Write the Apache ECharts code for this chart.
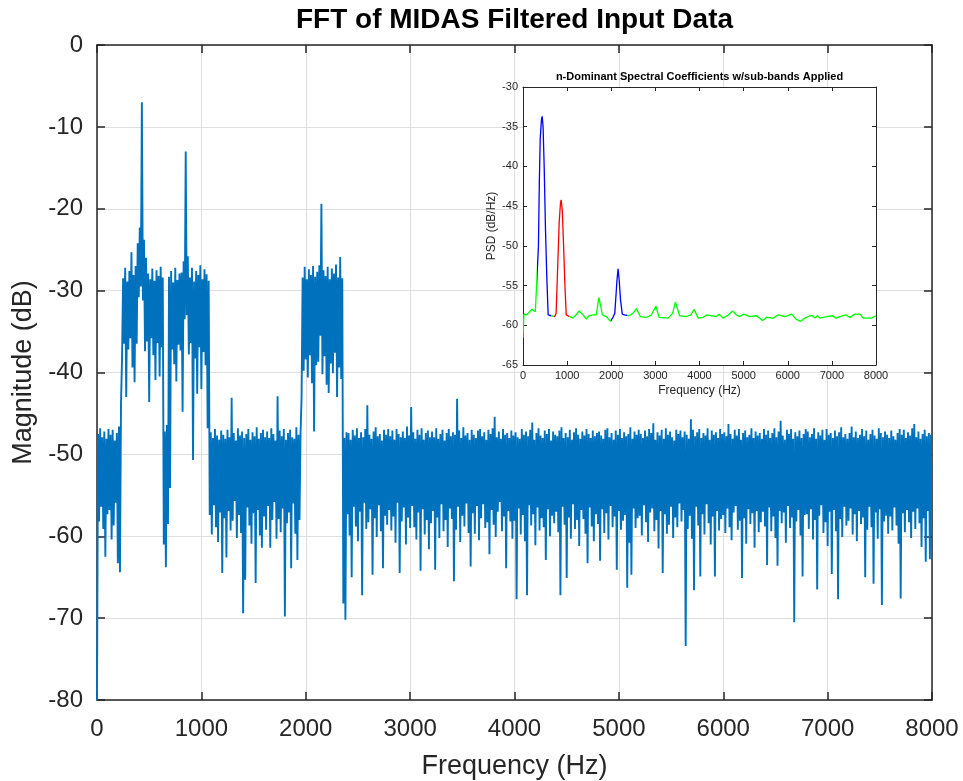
<!DOCTYPE html>
<html><head><meta charset="utf-8">
<script src="https://cdn.jsdelivr.net/npm/echarts@6/dist/echarts.min.js"></script>
<style>html,body{margin:0;padding:0;background:#fff}#chart{width:963px;height:781px}</style>
</head><body><div id="chart"></div>
<script>
// ---- Main FFT: per 20 Hz bin, the upper and lower extent of the magnitude trace (dB) ----
const binWidthHz = 20;
const bandHighDb = [
-47.5,-46.8,-47.9,-47.2,-48.1,-46.9,-47.6,-47.0,-48.3,-47.4,-46.6,-43.7,-28.5,-27.2,-28.9,-27.6,-25.3,-28.1,-27.0,-24.2,
-22.3,-7.0,-23.8,-26.0,-27.9,-28.6,-27.3,-28.8,-27.5,-28.2,-27.1,-28.4,-47.2,-46.4,-28.3,-27.6,-29.0,-27.2,-28.7,-27.9,
-27.8,-26.4,-13.0,-25.8,-28.4,-27.2,-28.9,-27.6,-28.1,-26.9,-28.6,-27.4,-28.0,-28.8,-47.3,-48.0,-46.9,-47.7,-48.2,-47.1,
-47.6,-48.1,-47.0,-47.9,-43.1,-47.4,-48.3,-46.8,-47.7,-47.2,-48.0,-47.5,-46.9,-48.2,-47.3,-47.8,-46.7,-48.1,-47.4,-47.0,
-47.9,-47.2,-48.0,-46.8,-47.5,-48.3,-42.9,-47.1,-47.8,-46.9,-48.2,-47.4,-47.0,-47.9,-48.1,-46.7,-47.6,-47.5,-28.4,-27.1,
-28.6,-27.4,-28.1,-27.0,-28.3,-27.7,-26.9,-19.4,-27.5,-28.2,-27.1,-28.6,-27.3,-27.9,-26.8,-28.4,-25.9,-28.5,-48.0,-47.3,
-47.4,-48.2,-47.0,-47.7,-46.8,-48.0,-47.3,-47.9,-46.9,-44.0,-47.6,-48.1,-47.2,-46.7,-47.8,-47.5,-48.3,-47.0,-47.6,-46.9,
-47.8,-47.1,-48.2,-46.9,-47.5,-47.9,-47.2,-48.0,-46.6,-47.7,-44.2,-47.3,-48.1,-47.0,-47.6,-46.8,-48.2,-47.4,-47.1,-47.9,
-47.2,-47.9,-46.8,-48.1,-47.5,-47.0,-48.3,-47.4,-46.9,-47.8,-47.3,-47.6,-43.2,-47.1,-48.0,-46.7,-47.7,-47.4,-48.2,-47.0,
-47.6,-48.0,-47.1,-46.9,-47.8,-47.3,-48.2,-47.0,-47.5,-46.8,-45.4,-47.9,-47.2,-48.1,-46.9,-47.6,-47.4,-48.0,-47.1,-47.7,
-47.3,-47.9,-48.1,-46.9,-47.6,-47.2,-47.8,-47.0,-46.1,-48.2,-47.4,-46.8,-47.7,-48.0,-47.1,-47.5,-46.9,-48.3,-47.2,-47.6,
-47.8,-47.1,-46.7,-48.0,-47.4,-47.9,-47.0,-48.2,-47.3,-46.8,-47.6,-48.1,-47.2,-47.7,-46.9,-47.5,-48.0,-47.1,-47.8,-47.4,
-47.2,-47.7,-48.1,-47.0,-46.8,-47.9,-47.4,-48.2,-47.1,-47.6,-46.9,-48.0,-47.3,-47.8,-47.5,-46.7,-48.1,-47.2,-47.6,-47.0,
-47.5,-48.0,-47.1,-47.8,-46.9,-47.4,-46.2,-48.2,-47.3,-47.7,-47.0,-48.1,-46.8,-47.6,-47.2,-47.9,-48.3,-47.0,-47.5,-47.1,
-47.9,-47.2,-47.6,-48.1,-45.7,-47.0,-47.8,-47.3,-46.9,-48.0,-47.4,-47.7,-46.8,-48.2,-47.1,-47.6,-47.3,-48.0,-46.9,-47.5,
-47.3,-47.8,-46.3,-47.5,-48.1,-47.0,-47.7,-46.9,-48.2,-47.4,-47.1,-47.9,-47.6,-46.8,-48.0,-47.2,-47.7,-47.4,-48.1,-46.9,
-47.6,-47.1,-48.0,-47.4,-46.8,-47.9,-47.2,-45.9,-47.7,-48.2,-47.0,-47.5,-46.9,-48.1,-47.3,-47.8,-47.1,-48.0,-47.5,-46.9,
-47.2,-47.9,-47.5,-46.8,-48.1,-47.3,-47.7,-47.0,-48.2,-46.9,-47.6,-47.4,-48.0,-47.1,-47.8,-47.3,-46.7,-47.9,-47.5,-48.1,
-47.4,-46.6,-47.9,-47.2,-48.0,-47.6,-46.9,-47.8,-47.1,-48.2,-47.5,-47.0,-47.7,-48.1,-46.8,-47.4,-47.9,-47.2,-47.6,-48.0,
-47.1,-47.8,-48.2,-47.4,-46.9,-47.6,-47.0,-48.0,-47.3,-47.7,-46.8,-46.3,-47.9,-47.2,-48.1,-47.5,-47.0,-47.8,-47.4,-47.6
];
const bandLowDb = [
-80,-58.2,-56.4,-59.1,-62.5,-57.3,-56.8,-60.4,-58.7,-55.9,-63.3,-64.4,-38.2,-36.5,-43.0,-37.2,-35.8,-39.4,-41.2,-36.5,
-30.8,-29.5,-31.2,-37.4,-36.2,-43.6,-35.8,-37.9,-40.9,-36.4,-40.5,-36.9,-61.0,-63.8,-58.5,-54.1,-37.2,-39.0,-41.1,-36.6,
-37.3,-44.8,-33.5,-33.0,-37.8,-36.4,-50.7,-38.3,-42.6,-36.9,-42.0,-37.5,-39.1,-46.8,-57.4,-59.8,-56.2,-58.9,-60.7,-57.1,
-64.5,-57.8,-62.6,-56.9,-59.3,-58.1,-55.7,-60.2,-57.4,-59.6,-69.4,-65.3,-56.5,-58.7,-60.9,-57.2,-65.7,-56.8,-59.9,-61.4,
-57.6,-59.2,-56.3,-61.4,-58.0,-55.8,-60.3,-57.9,-59.5,-56.6,-69.8,-58.4,-57.1,-63.9,-56.0,-59.7,-62.9,-58.0,-43.0,-39.8,
-38.4,-40.6,-37.9,-41.3,-47.2,-39.1,-38.7,-35.5,-40.2,-38.0,-41.5,-42.5,-38.9,-40.1,-37.6,-43.0,-39.4,-40.8,-68.2,-70.2,
-57.3,-59.9,-65.0,-56.4,-58.8,-60.6,-57.0,-67.2,-55.9,-59.1,-58.3,-56.7,-64.7,-57.8,-60.1,-56.2,-59.4,-63.9,-57.5,-58.6,
-56.8,-59.3,-57.6,-60.8,-55.9,-64.5,-58.2,-56.5,-61.0,-57.7,-59.0,-56.3,-58.9,-60.4,-57.1,-64.2,-56.7,-59.8,-58.0,-61.6,
-58.4,-56.9,-64.1,-57.7,-60.2,-56.1,-59.4,-58.0,-61.3,-56.6,-57.9,-65.5,-59.2,-56.4,-60.7,-57.5,-58.8,-56.0,-59.6,-63.7,
-57.2,-59.7,-56.3,-60.5,-57.8,-56.1,-59.0,-58.3,-62.2,-56.8,-58.6,-60.1,-57.0,-55.8,-59.4,-57.6,-63.9,-56.9,-58.2,-60.3,
-58.1,-67.7,-56.6,-59.8,-57.4,-60.6,-67.2,-56.2,-58.7,-57.3,-61.1,-56.5,-59.3,-57.8,-58.9,-62.9,-56.7,-60.0,-57.5,-58.4,
-57.0,-59.5,-67.2,-56.4,-58.6,-65.1,-57.7,-60.3,-56.1,-59.1,-58.0,-61.2,-56.8,-57.9,-59.7,-63.3,-56.5,-58.8,-60.6,-57.3,
-58.5,-63.0,-56.7,-59.6,-57.2,-60.4,-56.3,-58.9,-57.6,-64.1,-56.9,-59.2,-58.1,-57.4,-66.3,-60.8,-64.7,-56.6,-59.0,-57.8,
-57.5,-59.9,-56.2,-58.3,-60.7,-57.1,-56.6,-59.4,-58.0,-61.5,-56.9,-64.5,-57.3,-59.7,-58.6,-56.4,-60.2,-57.7,-58.9,-56.0,
-58.2,-56.8,-73.4,-59.1,-57.5,-60.3,-66.6,-56.4,-58.7,-64.9,-57.3,-59.8,-56.1,-58.4,-61.0,-57.6,-64.9,-56.9,-59.3,-57.9,
-57.4,-59.6,-56.6,-58.9,-60.5,-57.1,-56.3,-59.2,-58.1,-65.1,-57.8,-60.9,-56.7,-58.5,-57.2,-61.4,-56.9,-59.5,-58.3,-57.0,
-58.8,-63.5,-56.5,-59.4,-57.6,-60.2,-63.6,-56.9,-58.4,-57.1,-60.8,-56.3,-59.0,-57.7,-70.5,-58.2,-56.8,-59.9,-64.9,-57.4,
-57.3,-59.1,-56.7,-60.4,-58.0,-66.5,-57.5,-56.2,-59.6,-58.3,-61.2,-57.0,-64.6,-56.8,-59.4,-67.7,-57.9,-60.1,-56.4,-58.7,
-58.1,-56.6,-59.8,-57.3,-60.6,-56.9,-58.5,-57.7,-65.0,-59.2,-56.4,-58.9,-65.8,-57.1,-60.3,-56.7,-68.4,-58.2,-57.5,-59.7,
-57.6,-59.3,-56.5,-58.7,-60.9,-67.6,-57.2,-59.5,-56.8,-58.3,-60.2,-57.0,-59.1,-56.6,-58.4,-61.3,-57.8,-63.1,-56.9,-62.8
];

// ---- Inset PSD curve ----
const psdFreqHz = [0,20,80,150,200,240,280,320,350,370,390,420,435,455,480,510,540,570,600,640,680,720,750,790,820,850,865,890,920,950,980,1010,1060,1130,1200,1270,1300,1350,1430,1500,1590,1660,1700,1720,1760,1800,1890,1980,2040,2080,2110,2130,2155,2180,2210,2250,2300,2345,2400,2490,2570,2600,2660,2800,2910,3010,3040,3085,3290,3390,3455,3490,3550,3700,3800,3880,3920,3970,4080,4160,4270,4310,4385,4445,4540,4650,4750,4840,4910,5005,5140,5290,5430,5520,5670,5780,5940,6090,6180,6290,6390,6500,6560,6620,6670,6730,6800,6880,7020,7090,7180,7320,7410,7520,7640,7710,7900,8000];
const psdDb = [-61.6,-58.6,-58.7,-58.3,-58.0,-58.0,-58.3,-58.2,-50.0,-42.0,-36.5,-34.0,-33.7,-35.0,-40.0,-48.0,-54.0,-58.7,-58.8,-58.8,-59.0,-58.9,-58.5,-52.0,-47.0,-44.6,-44.2,-45.5,-50.0,-55.0,-58.7,-58.8,-58.9,-59.1,-58.7,-58.2,-58.1,-58.6,-59.2,-58.8,-58.7,-58.7,-57.2,-56.5,-57.6,-58.7,-58.9,-59.5,-59.0,-58.5,-56.0,-54.3,-52.9,-54.3,-56.8,-58.6,-58.7,-58.6,-58.8,-58.5,-57.9,-58.0,-58.9,-59.0,-58.7,-57.6,-57.8,-59.0,-59.1,-58.5,-57.1,-57.2,-58.8,-58.9,-58.7,-58.0,-58.5,-59.1,-59.0,-58.7,-58.8,-58.6,-58.9,-58.6,-59.1,-58.7,-58.2,-58.7,-58.9,-58.6,-58.9,-58.8,-59.4,-59.0,-59.1,-58.7,-58.9,-58.6,-59.2,-59.5,-59.1,-58.8,-58.8,-59.1,-58.8,-59.1,-59.0,-58.9,-58.8,-59.1,-58.9,-58.7,-59.0,-58.6,-58.6,-59.1,-59.1,-58.8];
// sub-band limits (Hz) used to colour the inset curve
const subBandEdgesHz = [0, 310, 640, 700, 1040, 1990, 2350, 8000];
const subBandColors = ['#00ff00', '#0000ff', '#00ff00', '#ff0000', '#00ff00', '#0000ff', '#00ff00'];

const mainTitle = 'FFT of MIDAS Filtered Input Data';
const insetTitle = 'n-Dominant Spectral Coefficients w/sub-bands Applied';

// ---- build ----
const mainData = [];
for (let i = 0; i < bandHighDb.length; i++) {
  mainData.push([i * binWidthHz, bandLowDb[i]]);
  mainData.push([i * binWidthHz + binWidthHz / 2, bandHighDb[i]]);
}
const psdData = psdFreqHz.map((f, i) => [f, psdDb[i]]);
const pieces = subBandColors.map((c, i) => ({ gte: subBandEdgesHz[i], lt: subBandEdgesHz[i + 1] + (i === subBandColors.length - 1 ? 1 : 0), color: c }));

const FONT = '"Liberation Sans", Arial, Helvetica, sans-serif';
const AX = '#262626';
const plain = v => String(v);
function axisCommon(extra) {
  return Object.assign({
    type: 'value',
    axisLine: { show: true, onZero: false, lineStyle: { color: AX, width: 1.5 } },
    axisTick: { show: true, inside: true, length: 8, lineStyle: { color: AX, width: 1.5 } },
    axisLabel: { show: true, color: AX, fontSize: 24, fontFamily: FONT, showMinLabel: true, showMaxLabel: true, formatter: plain },
    splitLine: { show: false },
    nameTextStyle: { color: AX, fontFamily: FONT }
  }, extra);
}
const gridLine = { show: true, lineStyle: { color: '#dfdfdf', width: 1 } };
const insetLine = { show: true, onZero: false, lineStyle: { color: AX, width: 1 } };
const insetTick = { show: true, inside: true, length: 4, lineStyle: { color: AX, width: 1 } };

const chart = echarts.init(document.getElementById('chart'), null, { renderer: 'canvas' });
chart.setOption({
  animation: false,
  backgroundColor: '#ffffff',
  grid: [
    { left: 97, top: 45, width: 835, height: 655, containLabel: false, outerBoundsMode: 'none', z: 0 },
    { left: 523, top: 87, width: 353, height: 278, show: true, backgroundColor: '#ffffff', borderWidth: 0,
      containLabel: false, outerBoundsMode: 'none', z: 5 }
  ],
  xAxis: [
    axisCommon({ gridIndex: 0, position: 'bottom', min: 0, max: 8000, interval: 1000,
      axisLabel: { color: AX, fontSize: 24, fontFamily: FONT, margin: 17, showMinLabel: true, showMaxLabel: true, formatter: plain },
      splitLine: gridLine, name: 'Frequency (Hz)', nameLocation: 'middle', nameGap: 53,
      nameTextStyle: { color: AX, fontSize: 27, fontFamily: FONT } }),
    axisCommon({ gridIndex: 0, position: 'top', min: 0, max: 8000, interval: 1000,
      axisLabel: { show: false }, name: mainTitle, nameLocation: 'middle', nameGap: 11,
      nameTextStyle: { color: '#000', fontSize: 28, fontWeight: 'bold', fontFamily: FONT } }),
    axisCommon({ gridIndex: 1, position: 'bottom', min: 0, max: 8000, interval: 1000, z: 6,
      axisLine: insetLine, axisTick: insetTick,
      axisLabel: { color: AX, fontSize: 11, fontFamily: FONT, margin: 5, showMinLabel: true, showMaxLabel: true, formatter: plain },
      name: 'Frequency (Hz)', nameLocation: 'middle', nameGap: 20,
      nameTextStyle: { color: AX, fontSize: 12, fontFamily: FONT } }),
    axisCommon({ gridIndex: 1, position: 'top', min: 0, max: 8000, interval: 1000, z: 6,
      axisLine: insetLine, axisTick: insetTick,
      axisLabel: { show: false }, name: insetTitle, nameLocation: 'middle', nameGap: 5,
      nameTextStyle: { color: '#000', fontSize: 11, fontWeight: 'bold', fontFamily: FONT } })
  ],
  yAxis: [
    axisCommon({ gridIndex: 0, position: 'left', min: -80, max: 0, interval: 10,
      axisLabel: { color: AX, fontSize: 24, fontFamily: FONT, margin: 14, showMinLabel: true, showMaxLabel: true, formatter: plain },
      splitLine: gridLine, name: 'Magnitude (dB)', nameLocation: 'middle', nameGap: 57,
      nameTextStyle: { color: AX, fontSize: 27, fontFamily: FONT } }),
    axisCommon({ gridIndex: 0, position: 'right', min: -80, max: 0, interval: 10, axisLabel: { show: false } }),
    axisCommon({ gridIndex: 1, position: 'left', min: -65, max: -30, interval: 5, z: 6,
      axisLine: insetLine, axisTick: insetTick,
      axisLabel: { color: AX, fontSize: 11, fontFamily: FONT, margin: 5, showMinLabel: true, showMaxLabel: true, formatter: plain },
      name: 'PSD (dB/Hz)', nameLocation: 'middle', nameGap: 25,
      nameTextStyle: { color: AX, fontSize: 12, fontFamily: FONT } }),
    axisCommon({ gridIndex: 1, position: 'right', min: -65, max: -30, interval: 5, z: 6,
      axisLine: insetLine, axisTick: insetTick, axisLabel: { show: false } })
  ],
  visualMap: [{ type: 'piecewise', show: false, dimension: 0, seriesIndex: 1, pieces: pieces }],
  series: [
    { type: 'line', xAxisIndex: 0, yAxisIndex: 0, data: mainData, showSymbol: false, symbol: 'none',
      lineStyle: { color: '#0072BD', width: 1.9, join: 'bevel' }, itemStyle: { color: '#0072BD' }, z: 2, clip: true },
    { type: 'line', xAxisIndex: 2, yAxisIndex: 2, data: psdData, showSymbol: false, symbol: 'none',
      lineStyle: { width: 1.3 }, z: 7, clip: true }
  ]
});
</script>
</body></html>
